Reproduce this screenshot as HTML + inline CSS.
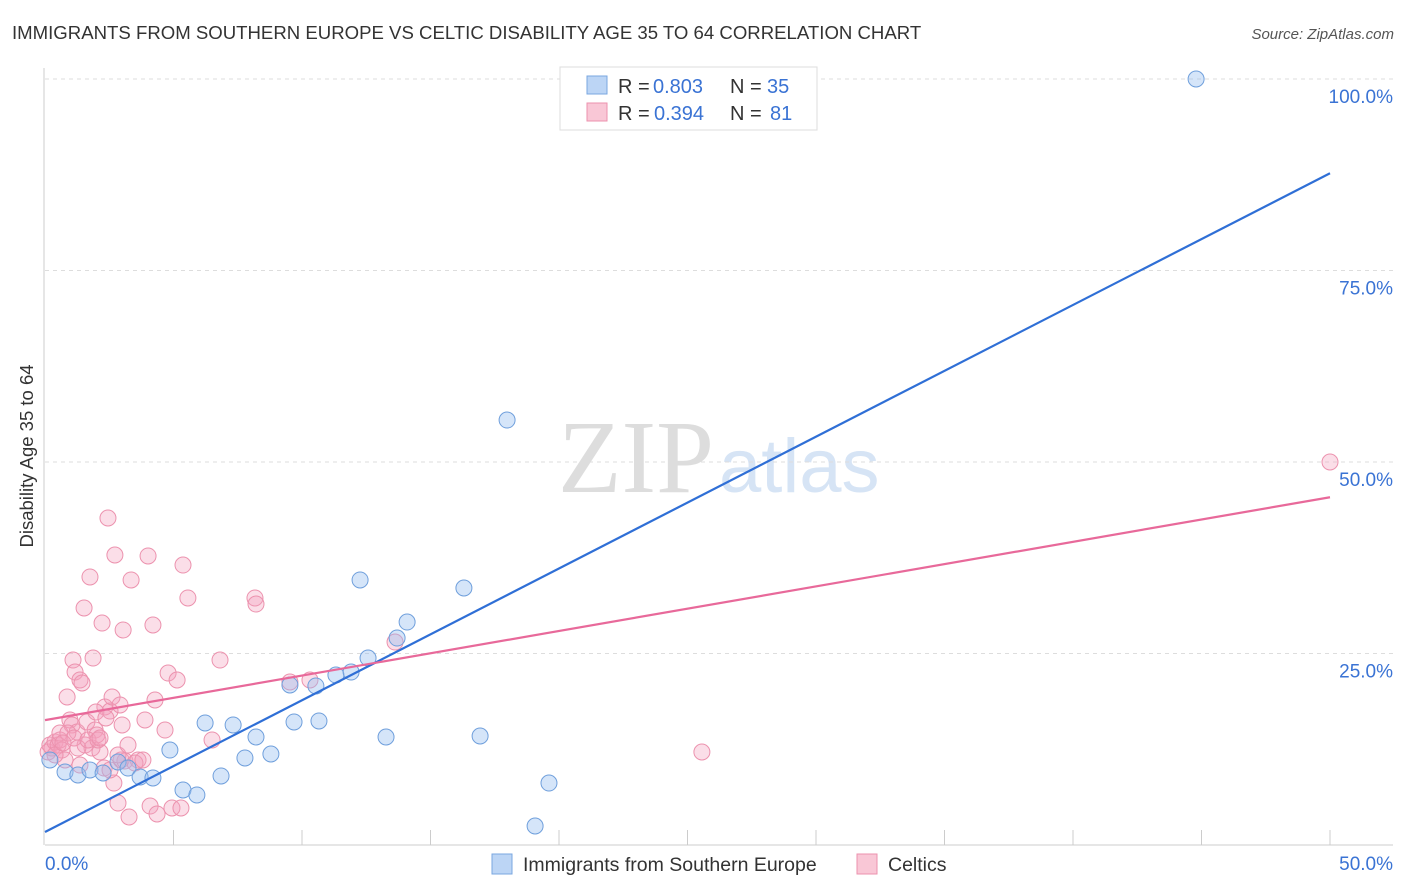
<!DOCTYPE html>
<html><head><meta charset="utf-8"><style>
body{margin:0;background:#fff;font-family:"Liberation Sans",sans-serif;}
svg{display:block}
</style></head><body>
<svg id="c" width="1406" height="892" xmlns="http://www.w3.org/2000/svg">
<text x="12" y="39" font-size="18.6" fill="#333">IMMIGRANTS FROM SOUTHERN EUROPE VS CELTIC DISABILITY AGE 35 TO 64 CORRELATION CHART</text>
<text x="1394" y="39" font-size="15" fill="#555" font-style="italic" text-anchor="end">Source: ZipAtlas.com</text>
<text x="714" y="492" font-size="104" fill="#ddd" font-family="Liberation Serif,serif" text-anchor="end">ZIP</text>
<text x="719" y="492" font-size="76" fill="#d6e4f5">atlas</text>
<text transform="translate(33,456) rotate(-90)" font-size="18.5" fill="#333" text-anchor="middle">Disability Age 35 to 64</text>
<g id="grid"></g><g id="pts"></g><g id="lines"></g>
<g>
<rect x="560" y="67" width="257" height="63" fill="#fff" stroke="#ddd"/>
<rect x="587" y="76" width="20" height="18" fill="#bcd5f5" stroke="#7aa7e0"/>
<rect x="587" y="103" width="20" height="18" fill="#f9c7d6" stroke="#ec92ae"/>
<text x="618" y="93" font-size="20" fill="#333">R =</text>
<text x="653" y="93" font-size="20" fill="#3a73d4">0.803</text>
<text x="730" y="93" font-size="20" fill="#333">N =</text>
<text x="767" y="93" font-size="20" fill="#3a73d4">35</text>
<text x="618" y="120" font-size="20" fill="#333">R =</text>
<text x="654" y="120" font-size="20" fill="#3a73d4">0.394</text>
<text x="730" y="120" font-size="20" fill="#333">N =</text>
<text x="770" y="120" font-size="20" fill="#3a73d4">81</text>
</g>
<g>
<rect x="492" y="854" width="20" height="20" fill="#bcd5f5" stroke="#7aa7e0"/>
<text x="523" y="871" font-size="19.5" fill="#333">Immigrants from Southern Europe</text>
<rect x="857" y="854" width="20" height="20" fill="#f9c7d6" stroke="#ec92ae"/>
<text x="888" y="871" font-size="19.5" fill="#333">Celtics</text>
</g>
</svg>
<script>
const yTicks=[25,50,75,100];
const yTickLabels=["25.0%","50.0%","75.0%","100.0%"];
const xTickLabels=["0.0%","50.0%"];
const bluePx=[[50,760],[65,772],[78,775],[90,770],[103,773],[118,762],[128,768],[140,777],[153,778],[170,750],[183,790],[197,795],[205,723],[221,776],[233,725],[245,758],[256,737],[271,754],[290,685],[294,722],[316,686],[319,721],[336,675],[351,672],[360,580],[368,658],[386,737],[397,638],[407,622],[464,588],[480,736],[507,420],[535,826],[549,783],[1196,79]];
const pinkPx=[[48,752],[50,745],[52,748],[55,742],[58,745],[60,740],[62,750],[65,760],[67,697],[70,720],[72,725],[73,660],[75,672],[77,732],[80,680],[82,683],[84,608],[85,745],[87,722],[90,577],[92,748],[93,658],[95,730],[97,735],[100,752],[102,623],[104,768],[105,707],[108,518],[110,711],[112,697],[114,783],[115,555],[118,803],[120,705],[121,760],[123,630],[125,761],[129,817],[131,580],[138,760],[145,720],[148,556],[150,806],[153,625],[155,700],[157,814],[165,730],[168,673],[172,808],[177,680],[181,808],[183,565],[188,598],[212,740],[220,660],[255,598],[256,604],[290,682],[310,680],[395,642],[702,752],[1330,462],[55,755],[60,733],[68,733],[74,738],[78,748],[88,740],[96,712],[98,740],[106,718],[110,770],[118,755],[122,725],[128,745],[135,763],[143,760],[100,738],[63,743],[80,765]];
const blueX=bluePx.map(p=>+((p[0]-45)/1285*50).toFixed(2));
const blueY=bluePx.map(p=>+((845-p[1])/7.66).toFixed(2));
const pinkX=pinkPx.map(p=>+((p[0]-45)/1285*50).toFixed(2));
const pinkY=pinkPx.map(p=>+((845-p[1])/7.66).toFixed(2));
const blueFit=[1.7,87.7];
const pinkFit=[16.3,45.4];
const NS="http://www.w3.org/2000/svg";
const X=v=>45+v/50*1285, Y=v=>845-v*7.66;
function mk(t,a,p){const e=document.createElementNS(NS,t);for(const k in a)e.setAttribute(k,a[k]);p.appendChild(e);return e;}
const g=document.getElementById('grid');
yTicks.forEach((t,i)=>{
 const l=mk('line',{x1:45,x2:1393,y1:Y(t),y2:Y(t),stroke:'#ddd','stroke-dasharray':'4,4'},g);
 
 
 const tx=mk('text',{x:1393,y:Y(t)+24,'font-size':19,fill:'#3a73d4','text-anchor':'end'},g);tx.textContent=yTickLabels[i];
 
 
});
mk('line',{x1:44,x2:44,y1:68,y2:845,stroke:'#ccc'},g);
mk('line',{x1:45,x2:1393,y1:845,y2:845,stroke:'#ccc'},g);
for(let i=1;i<=10;i++){const xx=X(i*5);const t=mk('line',{x1:xx,x2:xx,y1:830,y2:845,stroke:'#ccc'},g);
 
 }
[[0,'start',45],[50,'end',1393]].forEach((d,i)=>{const t=mk('text',{x:d[2],y:870,'font-size':19,fill:'#3a73d4','text-anchor':d[1]},g);t.textContent=xTickLabels[i];
 
 });
const P=document.getElementById('pts');
pinkX.forEach((x,i)=>{const c=mk('circle',{cx:X(x),cy:Y(pinkY[i]),r:8,fill:'rgba(244,160,190,0.35)',stroke:'#ec92ae','stroke-width':1},P);
 
 });
blueX.forEach((x,i)=>{const c=mk('circle',{cx:X(x),cy:Y(blueY[i]),r:8,fill:'rgba(150,190,240,0.4)',stroke:'#6f9fdc','stroke-width':1},P);
 
 });
const L=document.getElementById('lines');
const bl=mk('line',{x1:X(0),y1:Y(blueFit[0]),x2:X(50),y2:Y(blueFit[1]),stroke:'#2f6fd6','stroke-width':2.2},L);


const pl=mk('line',{x1:X(0),y1:Y(pinkFit[0]),x2:X(50),y2:Y(pinkFit[1]),stroke:'#e8699a','stroke-width':2.2},L);


</script>
</body></html>
